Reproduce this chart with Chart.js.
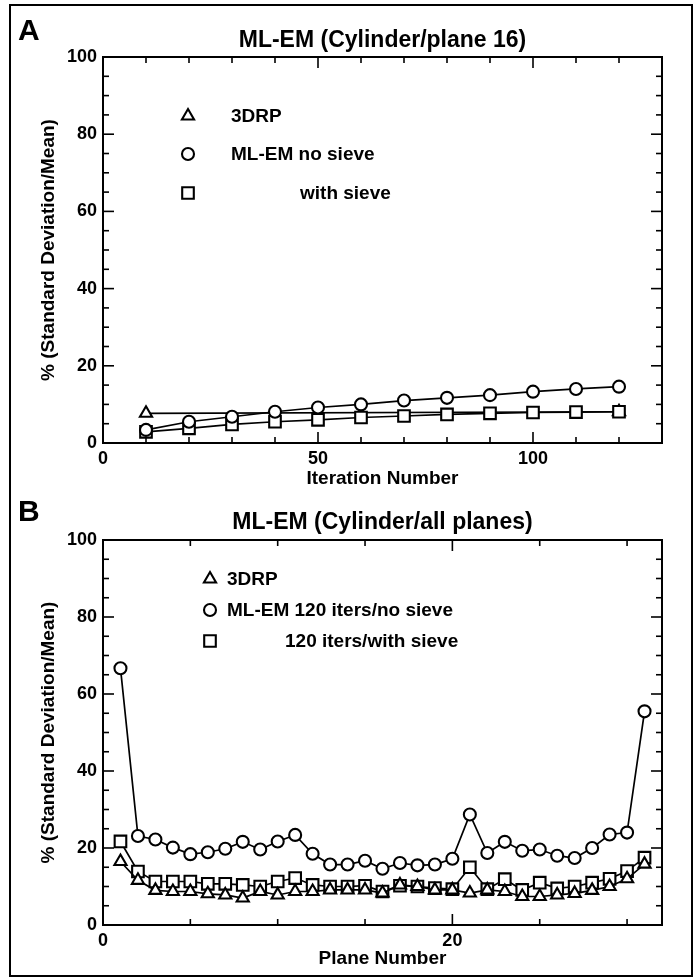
<!DOCTYPE html>
<html><head><meta charset="utf-8">
<script src="https://cdn.jsdelivr.net/npm/chart.js@4.4.0/dist/chart.umd.min.js"></script>
<style>
html,body{margin:0;padding:0;background:#fff;width:700px;height:980px;overflow:hidden}
#wrap{position:relative;width:700px;height:980px}
#frame{position:absolute;left:9px;top:4px;width:684px;height:973px;border:2.5px solid #000;box-sizing:border-box}
.panel{position:absolute;left:0;width:700px;height:490px}
.letter{position:absolute;left:18px;font:bold 30px "Liberation Sans",Arial,sans-serif;line-height:30px;color:#000}
</style></head>
<body><div id="wrap">
<div id="frame"></div>
<canvas id="cA" class="panel" style="top:0" width="700" height="490"></canvas>
<canvas id="cB" class="panel" style="top:490px" width="700" height="490"></canvas>
<div class="letter" style="top:15px">A</div>
<div class="letter" style="top:496px">B</div>
</div>
<script>
// ---------- Panel A data ----------
const iterations = [10,20,30,40,50,60,70,80,90,100,110,120];
const aNoSieve   = [3.4,5.5,6.8,8.1,9.2,10.0,11.0,11.7,12.4,13.3,14.0,14.6];
const aWithSieve = [2.9,3.8,4.8,5.5,6.0,6.6,7.0,7.4,7.7,7.9,8.0,8.1];
const a3drpIter  = [10,120];
const a3drp      = [7.7,8.1];
const aXTicks    = [0,50,100];
// ---------- Panel B data ----------
const planes = [1,2,3,4,5,6,7,8,9,10,11,12,13,14,15,16,17,18,19,20,21,22,23,24,25,26,27,28,29,30,31];
const bNoSieve   = [66.7,23.1,22.2,20.1,18.4,18.9,19.8,21.6,19.6,21.7,23.4,18.5,15.7,15.7,16.7,14.6,16.1,15.5,15.7,17.2,28.7,18.7,21.6,19.3,19.6,18.0,17.4,20.0,23.5,24.0,55.5];
const bWithSieve = [21.7,13.9,11.3,11.3,11.3,10.7,10.7,10.4,10.0,11.3,12.2,10.4,10.0,10.0,10.2,8.7,10.2,10.0,9.6,9.3,15.0,9.3,11.9,9.1,11.0,9.5,10.0,11.0,12.0,14.0,17.5];
const b3drp      = [16.5,11.6,9.0,8.7,8.7,8.1,7.8,7.0,8.7,7.8,8.7,8.7,9.1,9.1,9.1,8.3,10.4,10.0,9.1,9.1,8.3,9.1,8.7,7.4,7.4,7.8,8.2,9.0,10.0,12.0,15.8];
const bXTicks    = [0,20];
const yTicks     = [0,20,40,60,80,100];

const FONT = '"Liberation Sans", Arial, Helvetica, sans-serif';
Chart.defaults.font.family = FONT;
Chart.defaults.font.weight = 'bold';
Chart.defaults.color = '#000';

const zip = (xs, ys) => xs.map((x, i) => ({x, y: ys[i]}));

const markers = {
  triangle: {pointStyle: 'triangle', radius: 7},
  circle:   {pointStyle: 'circle',   radius: 6},
  rect:     {pointStyle: 'rect',     radius: 8.2}
};

function ds(label, data, m) {
  return {
    label, data,
    borderColor: '#000', borderWidth: 1.7,
    pointStyle: markers[m].pointStyle, pointRadius: markers[m].radius,
    pointBorderColor: '#000', pointBackgroundColor: '#fff', pointBorderWidth: 2.1,
    tension: 0, fill: false
  };
}

const frameTicks = {
  id: 'frameTicks',
  beforeDatasetsDraw(chart, args, o) {
    const {ctx, chartArea: a, scales: {x, y}} = chart;
    ctx.save();
    ctx.strokeStyle = '#000';
    ctx.lineWidth = 2;
    ctx.strokeRect(a.left, a.top, a.right - a.left, a.bottom - a.top);
    ctx.lineWidth = 1.6;
    const seg = (x1, y1, x2, y2) => { ctx.beginPath(); ctx.moveTo(x1, y1); ctx.lineTo(x2, y2); ctx.stroke(); };
    const isMul = (v, s) => Math.abs(v / s - Math.round(v / s)) < 1e-6;
    for (let v = x.min; v <= x.max + 1e-9; v += o.xMinor) {
      const p = x.getPixelForValue(v);
      const L = isMul(v, o.xMajor) ? o.majorLen : o.minorLen;
      seg(p, a.bottom, p, a.bottom - L);
      seg(p, a.top, p, a.top + L);
    }
    for (let v = y.min; v <= y.max + 1e-9; v += o.yMinor) {
      const p = y.getPixelForValue(v);
      const L = isMul(v, o.yMajor) ? o.majorLen : o.minorLen;
      seg(a.left, p, a.left + L, p);
      seg(a.right, p, a.right - L, p);
    }
    ctx.restore();
  }
};

const panelLegend = {
  id: 'panelLegend',
  afterDatasetsDraw(chart, args, o) {
    const ctx = chart.ctx;
    ctx.save();
    ctx.font = 'bold ' + o.fontSize + 'px ' + FONT;
    ctx.textBaseline = 'middle';
    ctx.textAlign = 'left';
    o.items.forEach(it => {
      const m = markers[it.marker];
      ctx.strokeStyle = '#000';
      ctx.fillStyle = '#fff';
      ctx.lineWidth = 2.1;
      Chart.helpers.drawPoint(ctx, {pointStyle: m.pointStyle, radius: m.radius, borderWidth: 2.1}, it.mx, it.my);
      ctx.fillStyle = '#000';
      ctx.fillText(it.text, it.tx, it.my + 1);
    });
    ctx.restore();
  }
};

function build(id, datasets, c) {
  return new Chart(document.getElementById(id), {
    type: 'line',
    data: {datasets},
    plugins: [frameTicks, panelLegend],
    options: {
      responsive: false, animation: false, events: [],
      layout: {padding: {left: 0, right: 38, top: 0, bottom: 0}},
      plugins: {
        legend: {display: false}, tooltip: {enabled: false},
        title: {display: true, text: c.title, fullSize: false, color: '#000',
                font: {size: 23, weight: 'bold'}, padding: {top: c.titleTop, bottom: c.titleBottom}},
        frameTicks: {xMajor: c.xMajor, xMinor: c.xMinor, yMajor: 20, yMinor: 5, majorLen: 11, minorLen: 6},
        panelLegend: {fontSize: 19, items: c.legend}
      },
      scales: {
        x: {
          type: 'linear', min: 0, max: c.xMax,
          grid: {display: false, drawTicks: false}, border: {display: false},
          ticks: {stepSize: c.xMajor, padding: 5, autoSkip: false, maxRotation: 0, font: {size: 18, weight: 'bold'}, color: '#000'},
          afterBuildTicks: s => { s.ticks = c.xTicks.map(v => ({value: v})); },
          afterFit: s => { s.height = c.xAxisHeight; },
          title: {display: true, text: c.xTitle, color: '#000', font: {size: 19, weight: 'bold'}, padding: {top: 0, bottom: c.xTitlePad}}
        },
        y: {
          type: 'linear', min: 0, max: 100,
          grid: {display: false, drawTicks: false}, border: {display: false},
          ticks: {stepSize: 20, padding: 6, font: {size: 18, weight: 'bold'}, color: '#000'},
          afterBuildTicks: s => { s.ticks = yTicks.map(v => ({value: v})); },
          afterFit: s => { s.width = 103; },
          title: {display: true, text: '% (Standard Deviation/Mean)', color: '#000', font: {size: 19, weight: 'bold'}, padding: {top: 37, bottom: 0}}
        }
      }
    }
  });
}

build('cA', [
  ds('ML-EM no sieve', zip(iterations, aNoSieve), 'circle'),
  ds('with sieve', zip(iterations, aWithSieve), 'rect'),
  ds('3DRP', zip(a3drpIter, a3drp), 'triangle')
], {
  title: 'ML-EM (Cylinder/plane 16)', titleTop: 27.2, titleBottom: 2.2,
  xMax: 130, xMajor: 50, xMinor: 10, xTicks: aXTicks,
  xAxisHeight: 47, xTitle: 'Iteration Number', xTitlePad: 0,
  legend: [
    {marker: 'triangle', mx: 188, my: 116, tx: 231, text: '3DRP'},
    {marker: 'circle', mx: 188, my: 154, tx: 231, text: 'ML-EM no sieve'},
    {marker: 'rect', mx: 188, my: 193, tx: 300, text: 'with sieve'}
  ]
});

build('cB', [
  ds('3DRP', zip(planes, b3drp), 'triangle'),
  ds('120 iters/with sieve', zip(planes, bWithSieve), 'rect'),
  ds('ML-EM 120 iters/no sieve', zip(planes, bNoSieve), 'circle')
], {
  title: 'ML-EM (Cylinder/all planes)', titleTop: 19.2, titleBottom: 3.2,
  xMax: 32, xMajor: 20, xMinor: 5, xTicks: bXTicks,
  xAxisHeight: 55, xTitle: 'Plane Number', xTitlePad: 10,
  legend: [
    {marker: 'triangle', mx: 210, my: 89, tx: 227, text: '3DRP'},
    {marker: 'circle', mx: 210, my: 120, tx: 227, text: 'ML-EM 120 iters/no sieve'},
    {marker: 'rect', mx: 210, my: 151, tx: 285, text: '120 iters/with sieve'}
  ]
});
</script>
</body></html>
